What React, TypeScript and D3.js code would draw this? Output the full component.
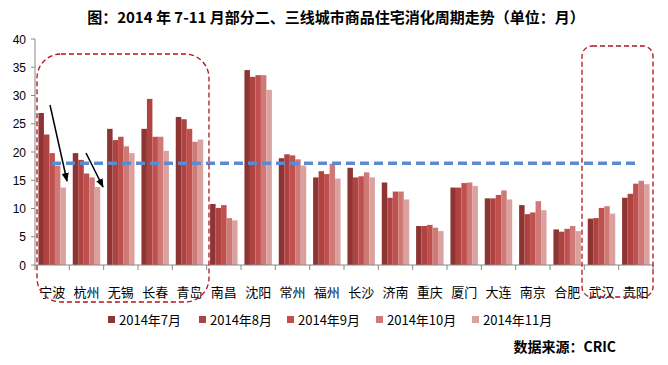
import React from "react";
import * as d3 from "d3";

const cities = ["宁波","杭州","无锡","长春","青岛","南昌","沈阳","常州","福州","长沙","济南","重庆","厦门","大连","南京","合肥","武汉","贵阳"];
const seriesNames = ["2014年7月","2014年8月","2014年9月","2014年10月","2014年11月"];
const jul = [26.9,19.8,24.1,24.1,26.2,10.8,34.5,18.9,15.5,17.2,14.6,6.9,13.7,11.8,10.6,6.3,8.2,11.9];
const aug = [23.1,18.6,22.1,29.4,25.8,10.1,33.3,19.6,16.6,15.5,11.9,6.9,13.7,11.8,9.0,5.9,8.3,12.6];
const sep = [19.8,16.2,22.7,22.7,24.1,10.6,33.6,19.4,16.1,15.7,13.0,7.1,14.5,12.4,9.3,6.4,10.1,14.4];
const oct = [17.6,15.5,21.0,22.7,21.8,8.3,33.6,18.7,17.9,16.4,13.0,6.6,14.6,13.2,11.3,6.9,10.4,14.9];
const nov = [13.7,13.8,19.8,20.2,22.2,7.9,31.0,17.6,15.3,15.5,11.6,6.0,14.0,11.6,9.7,6.0,9.1,14.3];
const yTicks = [0,5,10,15,20,25,30,35,40];
const refValue = 18;
const colors = ["#8E3432","#AE4341","#C0504D","#D07A77","#DAA19F"];

export default function App() {
  const W = 668, H = 365;
  const series = [jul, aug, sep, oct, nov];
  const x = d3.scaleBand<string>().domain(cities).range([35, 653]).paddingInner(0.2).paddingOuter(0.1);
  const x1 = d3.scaleBand<number>().domain([0,1,2,3,4]).range([0, x.bandwidth()]);
  const y = d3.scaleLinear().domain([0, 40]).range([265, 39]);
  const step = x.step();
  const tickXs = d3.range(cities.length + 1).map(i => 35 + i * step);
  const font = "'Noto Sans CJK SC', 'Microsoft YaHei', sans-serif";
  const dashRed = "#B3121B";

  return (
    <svg width={W} height={H} style={{ position: "absolute", left: 0, top: 0, background: "#fff" }} fontFamily={font}>
      <defs>
        <marker id="ah" viewBox="0 0 10 10" refX="9" refY="5" markerWidth="6" markerHeight="6" orient="auto">
          <path d="M0,1 L10,5 L0,9 z" fill="#000" />
        </marker>
      </defs>
      <text x={336} y={23} textAnchor="middle" fontSize={15} fontWeight="bold" fill="#000">图：2014 年 7-11 月部分二、三线城市商品住宅消化周期走势（单位：月）</text>

      {/* y axis */}
      <line x1={35} x2={35} y1={y(40)} y2={y(0)} stroke="#888" />
      {yTicks.map(t => (
        <g key={t}>
          <line x1={31} x2={35} y1={y(t)} y2={y(t)} stroke="#888" />
          <text x={26} y={y(t) + 4.5} textAnchor="end" fontSize={12} fill="#000" fontFamily="'Liberation Sans', sans-serif">{t}</text>
        </g>
      ))}

      {/* bars */}
      {cities.map((c, i) => (
        <g key={c} transform={`translate(${x(c)},0)`}>
          {series.map((s, k) => (
            <rect key={k} x={x1(k)} y={y(s[i])} width={x1.bandwidth()} height={y(0) - y(s[i])} fill={colors[k]} />
          ))}
        </g>
      ))}

      {/* x axis */}
      <line x1={35} x2={653} y1={265} y2={265} stroke="#888" />
      {tickXs.map((tx, i) => (
        <line key={i} x1={tx} x2={tx} y1={265} y2={270} stroke="#888" />
      ))}
      {cities.map(c => (
        <text key={c} x={(x(c) as number) + x.bandwidth() / 2} y={297} textAnchor="middle" fontSize={13} fill="#000">{c}</text>
      ))}

      {/* reference dashed line */}
      <line x1={52} x2={638} y1={y(refValue)} y2={y(refValue)} stroke="#5B8BD3" strokeWidth={3.5} strokeDasharray="9,5" />

      {/* arrows */}
      <line x1={50} y1={105} x2={67} y2={181} stroke="#000" strokeWidth={1.5} markerEnd="url(#ah)" />
      <line x1={86} y1={153} x2={103} y2={187} stroke="#000" strokeWidth={1.5} markerEnd="url(#ah)" />

      {/* dashed rounded boxes */}
      <rect x={37} y={54} width={172} height={248} rx={24} ry={24} fill="none" stroke={dashRed} strokeWidth={1.3} strokeDasharray="5,3" />
      <rect x={582} y={46} width={71} height={251} rx={10} ry={10} fill="none" stroke={dashRed} strokeWidth={1.3} strokeDasharray="5,3" />

      {/* legend */}
      {seriesNames.map((n, k) => {
        const lx = [108, 199, 287, 376, 472][k];
        return (
          <g key={n}>
            <rect x={lx} y={316} width={7} height={7} fill={colors[k]} />
            <text x={lx + 11} y={325} fontSize={13} fill="#000">{n}</text>
          </g>
        );
      })}

      <text x={616} y={352} textAnchor="end" fontSize={14} fontWeight="bold" fill="#000">数据来源：CRIC</text>
    </svg>
  );
}
